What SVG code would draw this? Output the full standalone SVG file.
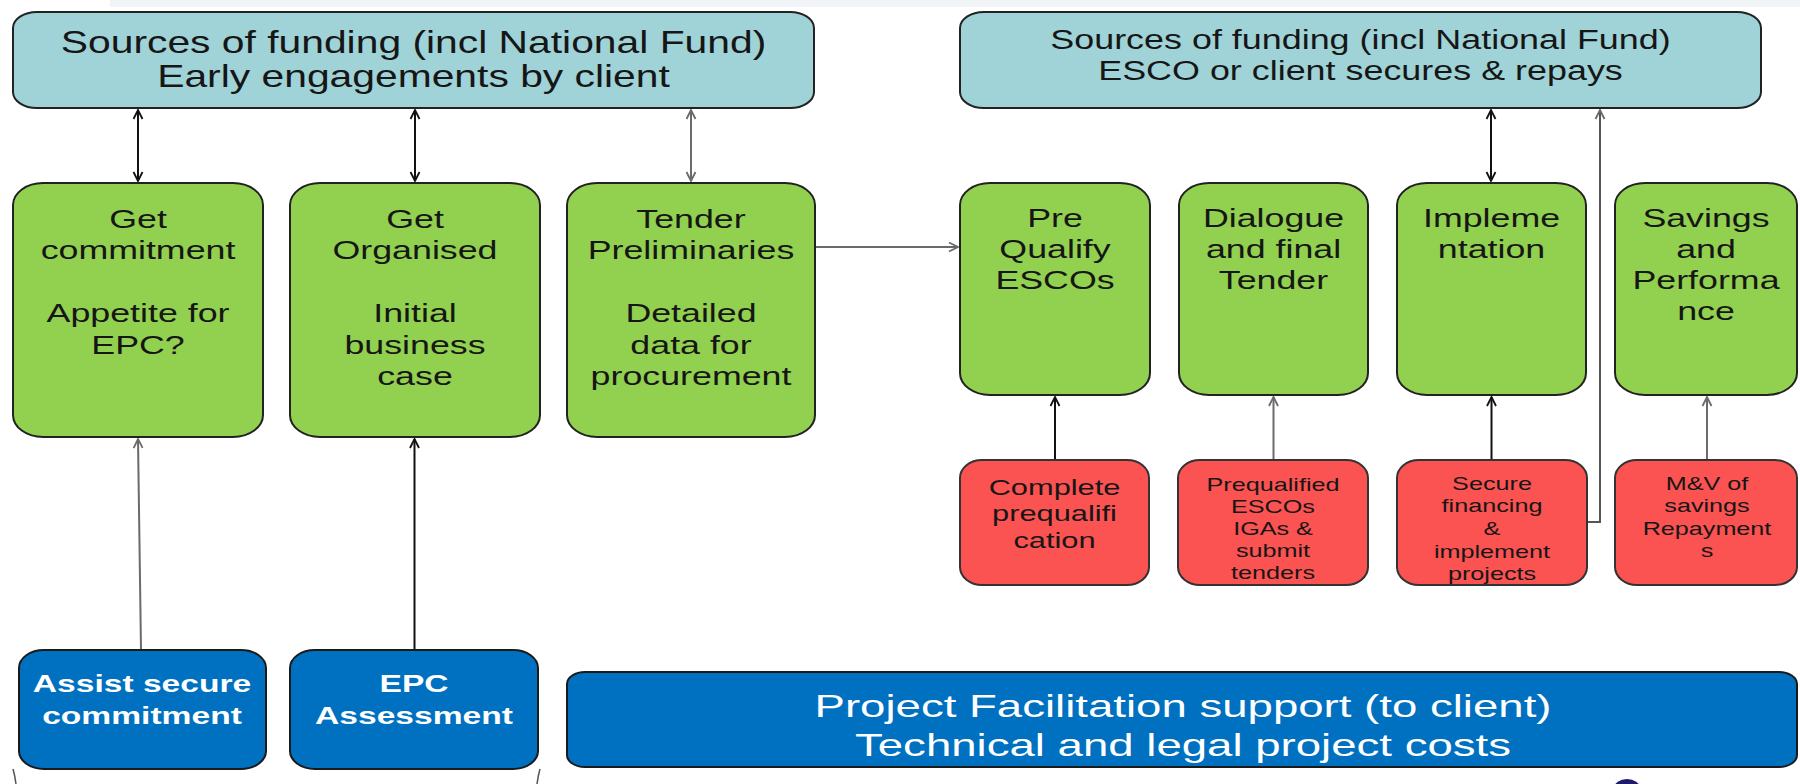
<svg xmlns="http://www.w3.org/2000/svg" width="1800" height="784" viewBox="0 0 1800 784">
<style>
.top{fill:#9fd3d7;stroke:#222;stroke-width:2}
.grn{fill:#92d050;stroke:#222;stroke-width:2}
.red{fill:#fb5252;stroke:#333;stroke-width:2}
.blu{fill:#0070c0;stroke:#1a1a1a;stroke-width:2}
text{font-family:"Liberation Sans",Arial,sans-serif;text-anchor:middle;fill:#161616}
.wt{fill:#ffffff}
.c{fill:none;stroke:#111;stroke-width:2}
.g{fill:none;stroke:#6a6a6a;stroke-width:2}
</style>
<defs>
<marker id="ab" viewBox="0 0 12 12" refX="11" refY="6" markerWidth="12" markerHeight="12" markerUnits="userSpaceOnUse" orient="auto-start-reverse"><path d="M2,1.5 L11,6 L2,10.5" fill="none" stroke="#111" stroke-width="1.8"/></marker>
<marker id="ag" viewBox="0 0 12 12" refX="11" refY="6" markerWidth="12" markerHeight="12" markerUnits="userSpaceOnUse" orient="auto-start-reverse"><path d="M2,1.5 L11,6 L2,10.5" fill="none" stroke="#6a6a6a" stroke-width="1.8"/></marker>
</defs>
<rect x="110" y="0" width="1690" height="7" fill="#f1f4f6"/>

<g id="connectors">
<path class="c" d="M138,110 V181" marker-start="url(#ab)" marker-end="url(#ab)"/>
<path class="c" d="M415,110 V181" marker-start="url(#ab)" marker-end="url(#ab)"/>
<path class="g" d="M691,110 V181" marker-start="url(#ag)" marker-end="url(#ag)"/>
<path class="c" d="M1491,110 V181" marker-start="url(#ab)" marker-end="url(#ab)"/>
<path class="g" d="M815,247 H958" marker-end="url(#ag)"/>
<path class="c" d="M1055,460 V397" marker-end="url(#ab)"/>
<path class="g" d="M1273.5,460 V397" marker-end="url(#ag)"/>
<path class="c" d="M1491.5,460 V397" marker-end="url(#ab)"/>
<path class="g" d="M1707,460 V397" marker-end="url(#ag)"/>
<path class="g" d="M1587,522 H1600 V110" marker-end="url(#ag)" style="stroke:#555"/>
<path class="g" d="M141,650 L138,439" marker-end="url(#ag)"/>
<path class="c" d="M414.5,650 V439" marker-end="url(#ab)"/>
</g>

<g id="fund-early">
<rect class="top" x="13" y="12" width="801" height="96" rx="24" ry="16"/>
<g transform="translate(413.5,0) scale(1.3,1)" font-size="31.4"><text x="0" y="53.5">Sources of funding (incl National Fund)</text><text x="0" y="87">Early engagements by client</text></g>
</g>
<g id="fund-esco">
<rect class="top" x="960" y="12" width="801" height="96" rx="24" ry="16"/>
<g transform="translate(1360.5,0) scale(1.33,1)" font-size="27"><text x="0" y="49">Sources of funding (incl National Fund)</text><text x="0" y="80">ESCO or client secures &amp; repays</text></g>
</g>

<g id="get-commitment">
<rect class="grn" x="13" y="183" width="250" height="254" rx="30" ry="22"/>
<g transform="translate(138,0) scale(1.35,1)" font-size="26.5"><text x="0" y="228">Get</text><text x="0" y="259.5">commitment</text><text x="0" y="322.5">Appetite for</text><text x="0" y="354">EPC?</text></g>
</g>
<g id="get-organised">
<rect class="grn" x="290" y="183" width="250" height="254" rx="30" ry="22"/>
<g transform="translate(415,0) scale(1.35,1)" font-size="26.5"><text x="0" y="228">Get</text><text x="0" y="259.5">Organised</text><text x="0" y="322.5">Initial</text><text x="0" y="354">business</text><text x="0" y="385.5">case</text></g>
</g>
<g id="tender-prelim">
<rect class="grn" x="567" y="183" width="248" height="254" rx="30" ry="22"/>
<g transform="translate(691,0) scale(1.35,1)" font-size="26.5"><text x="0" y="228">Tender</text><text x="0" y="259.5">Preliminaries</text><text x="0" y="322.5">Detailed</text><text x="0" y="354">data for</text><text x="0" y="385.5">procurement</text></g>
</g>
<g id="pre-qualify">
<rect class="grn" x="960" y="183" width="190" height="212" rx="30" ry="22"/>
<g transform="translate(1055,0) scale(1.35,1)" font-size="26.5"><text x="0" y="227">Pre</text><text x="0" y="258">Qualify</text><text x="0" y="289">ESCOs</text></g>
</g>
<g id="dialogue">
<rect class="grn" x="1179" y="183" width="189" height="212" rx="30" ry="22"/>
<g transform="translate(1273.5,0) scale(1.35,1)" font-size="26.5"><text x="0" y="227">Dialogue</text><text x="0" y="258">and final</text><text x="0" y="289">Tender</text></g>
</g>
<g id="implementation">
<rect class="grn" x="1397" y="183" width="189" height="212" rx="30" ry="22"/>
<g transform="translate(1491.5,0) scale(1.35,1)" font-size="26.5"><text x="0" y="227">Impleme</text><text x="0" y="258">ntation</text></g>
</g>
<g id="savings">
<rect class="grn" x="1615" y="183" width="182" height="212" rx="30" ry="22"/>
<g transform="translate(1706,0) scale(1.35,1)" font-size="26.5"><text x="0" y="227">Savings</text><text x="0" y="258">and</text><text x="0" y="289">Performa</text><text x="0" y="320">nce</text></g>
</g>

<g id="complete-preq">
<rect class="red" x="960" y="460" width="189" height="125" rx="22" ry="18"/>
<g transform="translate(1054.5,0) scale(1.4,1)" font-size="22"><text x="0" y="495">Complete</text><text x="0" y="521.5">prequalifi</text><text x="0" y="548">cation</text></g>
</g>
<g id="prequalified-escos">
<rect class="red" x="1178" y="460" width="190" height="125" rx="22" ry="18"/>
<g transform="translate(1273,0) scale(1.4,1)" font-size="18"><text x="0" y="491">Prequalified</text><text x="0" y="513">ESCOs</text><text x="0" y="535">IGAs &amp;</text><text x="0" y="557">submit</text><text x="0" y="579">tenders</text></g>
</g>
<g id="secure-financing">
<rect class="red" x="1397" y="460" width="190" height="125" rx="22" ry="18"/>
<g transform="translate(1492,0) scale(1.4,1)" font-size="18"><text x="0" y="490">Secure</text><text x="0" y="512">financing</text><text x="0" y="535">&amp;</text><text x="0" y="558">implement</text><text x="0" y="580">projects</text></g>
</g>
<g id="mv-savings">
<rect class="red" x="1615" y="460" width="182" height="125" rx="22" ry="18"/>
<g transform="translate(1707,0) scale(1.4,1)" font-size="18"><text x="0" y="490">M&amp;V of</text><text x="0" y="512">savings</text><text x="0" y="535">Repayment</text><text x="0" y="557">s</text></g>
</g>

<g id="assist-secure">
<rect class="blu" x="19" y="650" width="247" height="119" rx="25" ry="18"/>
<g transform="translate(142,0) scale(1.4,1)" font-size="24" font-weight="bold"><text class="wt" x="0" y="692">Assist secure</text><text class="wt" x="0" y="724">commitment</text></g>
</g>
<g id="epc-assessment">
<rect class="blu" x="290" y="650" width="248" height="119" rx="25" ry="18"/>
<g transform="translate(414,0) scale(1.4,1)" font-size="24" font-weight="bold"><text class="wt" x="0" y="692">EPC</text><text class="wt" x="0" y="724">Assessment</text></g>
</g>
<g id="project-facilitation">
<rect class="blu" x="567" y="672" width="1230" height="95" rx="18" ry="12"/>
<g transform="translate(1183,0) scale(1.47,1)" font-size="31"><text class="wt" x="0" y="717">Project Facilitation support (to client)</text><text class="wt" x="0" y="756">Technical and legal project costs</text></g>
</g>

<path d="M13,769 Q15,776 16,784" fill="none" stroke="#555" stroke-width="1.5"/>
<path d="M540,769 Q538,776 537,784" fill="none" stroke="#555" stroke-width="1.5"/>
<ellipse cx="1627" cy="788" rx="13" ry="9" fill="#1c1c6b"/>
</svg>
